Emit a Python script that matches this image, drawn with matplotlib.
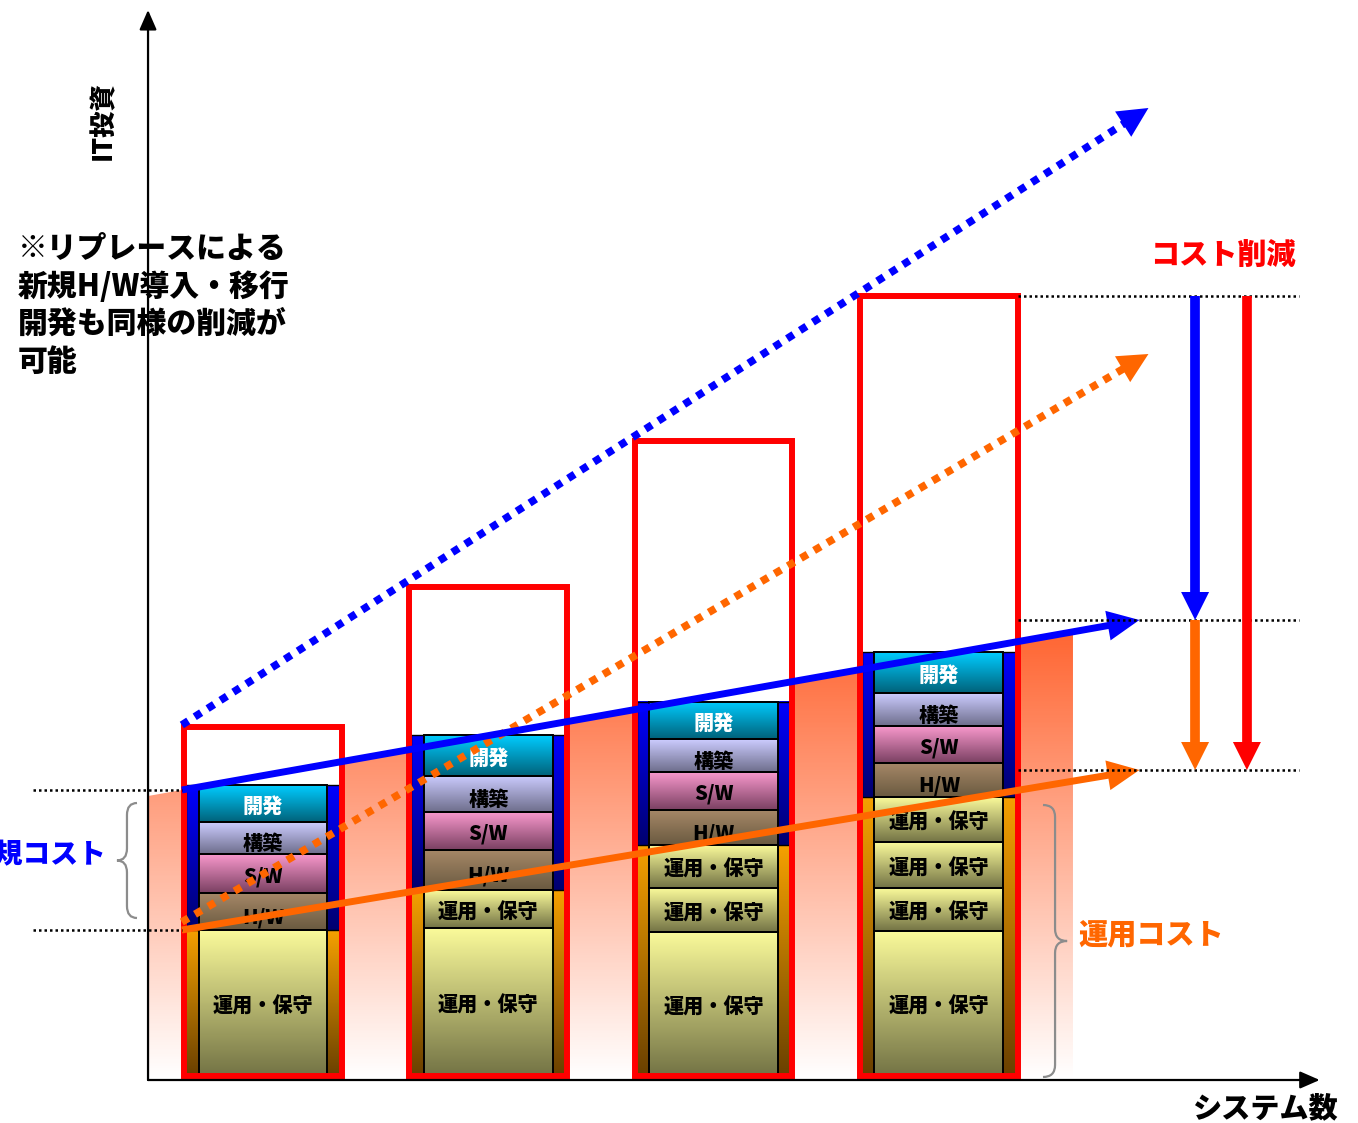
import numpy as np
import matplotlib.pyplot as plt
from matplotlib.patches import Rectangle, Polygon, FancyArrowPatch, PathPatch
from matplotlib.path import Path
from matplotlib.colors import LinearSegmentedColormap

plt.rcParams['font.family'] = ['Noto Sans CJK JP', 'DejaVu Sans']

# ---- data (cost units, 1 system per column) ----
systems = [1, 2, 3, 4]
ops_costs = [[14.6], [14.8, 3.8], [14.4, 4.4, 4.3], [14.5, 4.3, 4.6, 4.5]]
hw_costs = [3.7, 4.0, 3.5, 3.4]
sw_costs = [3.9, 3.8, 3.8, 3.7]
build_costs = [3.2, 3.6, 3.3, 3.3]
dev_costs = [3.7, 4.1, 3.7, 4.1]
legacy_totals = [34.9, 48.9, 63.5, 78.0]   # red boxes (before reduction)

ops_label = '運用・保守'
dev_labels = ['H/W', 'S/W', '構築', '開発']   # bottom -> top

trend_x_solid = [0.64, 4.89]
trend_x_dotted = [0.64, 4.93]
blue_trend = [28.6, 45.6]
orange_trend = [14.6, 30.6]
blue_dotted_trend = [35.1, 96.8]
orange_dotted_trend = [15.4, 72.2]

note_lines = ['※リプレースによる', '新規H/W導入・移行', '開発も同様の削減が', '可能']

# colours (top, bottom)
dev_colors = {
    'H/W': ('#A58767', '#6A5A40'),
    'S/W': ('#F898CC', '#7A4062'),
    '構築': ('#CCCCFF', '#6E6E8C'),
    '開発': ('#00CCFF', '#00627A'),
}
ops_color = ('#FAFA9A', '#737345')
blue_wrap = ('#0000FF', '#000070')
orange_wrap = ('#F5A000', '#6A4000')
ORANGE = '#FF6600'

fig = plt.figure(figsize=(13.58, 11.23), dpi=100)
ax = fig.add_axes([0, 0, 1, 1])
ax.set_xlim(-0.167, 5.86)
ax.set_ylim(-4.7, 107.6)
ax.axis('off')


def grad_rect(x0, x1, y0, y1, colors, z):
    cmap = LinearSegmentedColormap.from_list('g', [colors[1], colors[0]])
    return ax.imshow(np.linspace(0, 1, 128).reshape(-1, 1), cmap=cmap,
                     extent=[x0, x1, y0, y1], origin='lower', aspect='auto',
                     interpolation='bilinear', zorder=z)


def arrow_line(x, y, color, lw, ls, head_len, head_w, z):
    # head sizes in pixels
    p0 = ax.transData.transform((x[0], y[0]))
    p1 = ax.transData.transform((x[1], y[1]))
    d = (p1 - p0) / np.hypot(*(p1 - p0))
    xe, ye = ax.transData.inverted().transform(p1 - d * head_len * 0.85)
    ax.plot([x[0], xe], [y[0], ye], color=color, lw=lw, ls=ls,
            solid_capstyle='butt', dash_capstyle='butt', zorder=z)
    ax.add_patch(FancyArrowPatch((x[0], y[0]), (x[1], y[1]),
                                 arrowstyle='-|>,head_length=%.2f,head_width=%.2f'
                                 % (head_len * 0.72, head_w * 0.36),
                                 mutation_scale=1, lw=0, color=color,
                                 shrinkA=0, shrinkB=0, zorder=z + 0.1))


def brace(xb, xt, y0, y1, r=1.2):
    xm = (xb + xt) / 2
    ym = (y0 + y1) / 2
    verts = [(xb, y1), (xm, y1), (xm, y1 - r), (xm, ym + r), (xm, ym), (xt, ym),
             (xm, ym), (xm, ym - r), (xm, y0 + r), (xm, y0), (xb, y0)]
    codes = [Path.MOVETO, Path.CURVE3, Path.CURVE3, Path.LINETO, Path.CURVE3, Path.CURVE3,
             Path.CURVE3, Path.CURVE3, Path.LINETO, Path.CURVE3, Path.CURVE3]
    ax.add_patch(PathPatch(Path(verts, codes), fill=False, ec='#8C8C8C', lw=1.6, zorder=9))


# background gradient under the blue trend
bg_right = 4.595
slope = (blue_trend[1] - blue_trend[0]) / (trend_x_solid[1] - trend_x_solid[0])
bg_top_l = blue_trend[0] + slope * (0.49 - trend_x_solid[0])
bg_top_r = blue_trend[0] + slope * (bg_right - trend_x_solid[0])
bg_poly = Polygon([(0.49, -0.4), (0.49, bg_top_l), (bg_right, bg_top_r), (bg_right, -0.4)],
                  closed=True, fill=False, lw=0)
ax.add_patch(bg_poly)
bg = grad_rect(0.49, bg_right, -0.4, bg_top_r, ('#FF6633', '#FFFFFF'), 1)
bg.set_clip_path(bg_poly)

box_half, wrap_half, seg_half = 0.350, 0.342, 0.286
for i, xc in enumerate(systems):
    ax.add_patch(Rectangle((xc - box_half, 0), 2 * box_half, legacy_totals[i],
                           fc='white', ec='none', zorder=2))
    ops_top = sum(ops_costs[i])
    dev_top = ops_top + hw_costs[i] + sw_costs[i] + build_costs[i] + dev_costs[i]
    grad_rect(xc - wrap_half, xc + wrap_half, 0, ops_top, orange_wrap, 3)
    grad_rect(xc - wrap_half, xc + wrap_half, ops_top, dev_top, blue_wrap, 3)
    ax.add_patch(Rectangle((xc - wrap_half, ops_top), 2 * wrap_half, dev_top - ops_top,
                           fill=False, ec='black', lw=1, zorder=3.5))

    segs = [(ops_label, h, ops_color) for h in ops_costs[i]]
    segs += [(lab, v[i], dev_colors[lab]) for lab, v in
             zip(dev_labels, [hw_costs, sw_costs, build_costs, dev_costs])]
    y = 0
    for lab, h, cols in segs:
        grad_rect(xc - seg_half, xc + seg_half, y, y + h, cols, 4)
        rect = Rectangle((xc - seg_half, y), 2 * seg_half, h, fill=False,
                         ec='black', lw=1.4, zorder=4.5)
        ax.add_patch(rect)
        off = 0.6 if lab in ('構築', 'H/W') else 0.3
        t = ax.text(xc, y + h / 2 - off, lab, ha='center', va='center', fontsize=14.5,
                    fontweight='heavy', color='white' if lab == '開発' else 'black',
                    zorder=5)
        t.set_clip_path(rect)
        y += h

    ax.add_patch(Rectangle((xc - box_half, 0), 2 * box_half, legacy_totals[i],
                           fill=False, ec='#FF0000', lw=4.3, zorder=6))

# axes with arrows
ax.annotate('', xy=(0.49, 106.6), xytext=(0.49, -0.4),
            arrowprops=dict(arrowstyle='-|>,head_length=0.8,head_width=0.35', lw=1.6,
                            color='black', shrinkA=0, shrinkB=0, mutation_scale=15),
            zorder=7)
ax.annotate('', xy=(5.69, -0.4), xytext=(0.49, -0.4),
            arrowprops=dict(arrowstyle='-|>,head_length=0.8,head_width=0.35', lw=1.6,
                            color='black', shrinkA=0, shrinkB=0, mutation_scale=15),
            zorder=7)

# trend lines
arrow_line(trend_x_dotted, blue_dotted_trend, '#0000FF', 5.5, (0, (1, 1)), 30, 30, 8)
arrow_line(trend_x_dotted, orange_dotted_trend, ORANGE, 5.5, (0, (1, 1)), 30, 30, 8)
arrow_line(trend_x_solid, blue_trend, '#0000FF', 5, '-', 32, 30, 8)
arrow_line(trend_x_solid, orange_trend, ORANGE, 5, '-', 32, 30, 8)

# reference dotted lines
ref_ls = (0, (1, 1.2))
for yv in (blue_trend[0], orange_trend[0]):
    ax.plot([-0.02, 0.64], [yv, yv], color='black', lw=1.8, ls=ref_ls, zorder=9)
for yv in (legacy_totals[-1], blue_trend[1], orange_trend[1]):
    ax.plot([4.35, 5.60], [yv, yv], color='black', lw=1.8, ls=ref_ls, zorder=9)

# reduction arrows
arrow_line([5.137, 5.137], [legacy_totals[-1], blue_trend[1]], '#0000FF', 7, '-', 28, 28, 9)
arrow_line([5.137, 5.137], [blue_trend[1], orange_trend[1]], ORANGE, 7, '-', 28, 28, 9)
arrow_line([5.367, 5.367], [legacy_totals[-1], orange_trend[1]], '#FF0000', 7, '-', 28, 28, 9)

# braces
brace(0.441, 0.352, 15.8, 27.3)
brace(4.462, 4.569, -0.1, 27.1)

# labels
ax.text(5.261, 82.1, 'コスト削減', color='#FF0000', fontsize=21, fontweight='heavy',
        ha='center', va='center', zorder=10)
ax.text(4.617, 14.0, '運用コスト', color=ORANGE, fontsize=21, fontweight='heavy',
        ha='left', va='center', zorder=10)
ax.text(0.3076, 22.1, '新規コスト', color='#0000FF', fontsize=20, fontweight='heavy',
        ha='right', va='center', zorder=10)
for k, line in enumerate(note_lines):
    ax.text(-0.087, 82.8 - 3.77 * k, line, color='black', fontsize=21.5, fontweight='heavy',
            ha='left', va='center', zorder=10)
ax.text(0.29, 95.5, 'IT投資', rotation=90, fontsize=19, fontweight='heavy',
        ha='center', va='center', zorder=10)
ax.text(5.452, -3.2, 'システム数', fontsize=21, fontweight='heavy',
        ha='center', va='center', zorder=10)

fig.savefig('out.png', dpi=100)
